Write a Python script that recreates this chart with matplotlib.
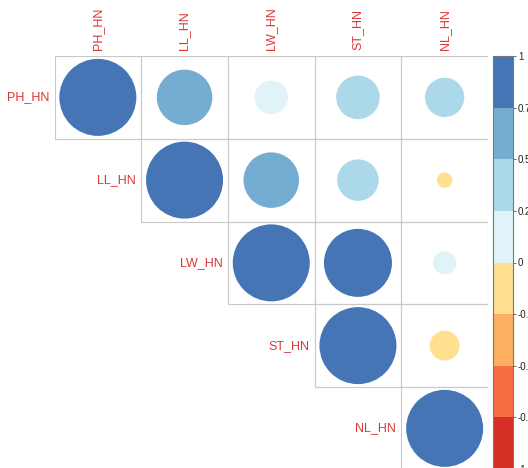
import numpy as np
import matplotlib
matplotlib.use("Agg")
from matplotlib import pyplot as plt
from matplotlib.patches import Ellipse, Rectangle
from matplotlib.colors import ListedColormap, BoundaryNorm
from matplotlib.colorbar import ColorbarBase

plt.rcParams['font.family'] = ['Liberation Sans', 'DejaVu Sans']

labels = ["PH_HN", "LL_HN", "LW_HN", "ST_HN", "NL_HN"]

# upper triangle of the correlation matrix
corr = np.array([
    [1.00, 0.52, 0.19, 0.32, 0.26],
    [0.00, 1.00, 0.52, 0.29, -0.04],
    [0.00, 0.00, 1.00, 0.78, 0.09],
    [0.00, 0.00, 0.00, 1.00, -0.15],
    [0.00, 0.00, 0.00, 0.00, 1.00],
])

bin_colors = ["#D73027", "#F46D43", "#FDAE61", "#FEE090",
              "#E0F3F8", "#ABD9E9", "#74ADD1", "#4575B4"]
bounds = np.linspace(-1, 1, 9)
tick_vals = [1, 0.75, 0.5, 0.25, 0, -0.25, -0.5, -0.75, -1]
tick_txt = ["1", "0.75", "0.5", "0.25", "0", "-0.25", "-0.5", "-0.75", "-1"]

cmap = ListedColormap(bin_colors)
norm = BoundaryNorm(bounds, cmap.N)

W, H = 528, 468
fig = plt.figure(figsize=(W / 100, H / 100), dpi=100)

# grid: cells are a bit wider than tall in the original
cw, ch = 86.7, 82.75
x0, y0 = 54.5, 56
ax = fig.add_axes([x0 / W, 1 - (y0 + 5 * ch) / H, 5 * cw / W, 5 * ch / H])
ax.set_xlim(0, 5)
ax.set_ylim(5, 0)
ax.set_axis_off()

rmax = 38.5  # radius in px of a circle with |r| = 1
txt_col = "#DD3535"
n = len(labels)
for i in range(n):
    for j in range(i, n):
        ax.add_patch(Rectangle((j, i), 1, 1, fill=False, edgecolor="#C8C8C8",
                               linewidth=0.8))
        r = corr[i, j]
        rad = rmax * np.sqrt(abs(r))
        ax.add_patch(Ellipse((j + 0.5, i + 0.5), 2 * rad / cw, 2 * rad / ch,
                             facecolor=cmap(norm(r)), edgecolor="none"))
    # row label left of the diagonal cell
    ax.text(i - 0.06, i + 0.5, labels[i], ha="right", va="center",
            color=txt_col, fontsize=9)
    # column label above the grid
    ax.text(i + 0.5, -0.07, labels[i], ha="center", va="bottom",
            rotation=90, color=txt_col, fontsize=9)

# colour legend
cb_top, cb_bot = 56, 469
cax = fig.add_axes([493 / W, 1 - cb_bot / H, 20 / W, (cb_bot - cb_top) / H])
cb = ColorbarBase(cax, cmap=cmap, norm=norm, boundaries=bounds,
                  ticks=tick_vals, orientation="vertical")
cb.set_ticklabels(tick_txt)
cb.outline.set_edgecolor("#777777")
cb.outline.set_linewidth(0.8)
cax.tick_params(labelsize=7, length=2, width=0.6, color="#555555",
                labelcolor="#222222", pad=1.5)

fig.savefig("out.png", dpi=100)
